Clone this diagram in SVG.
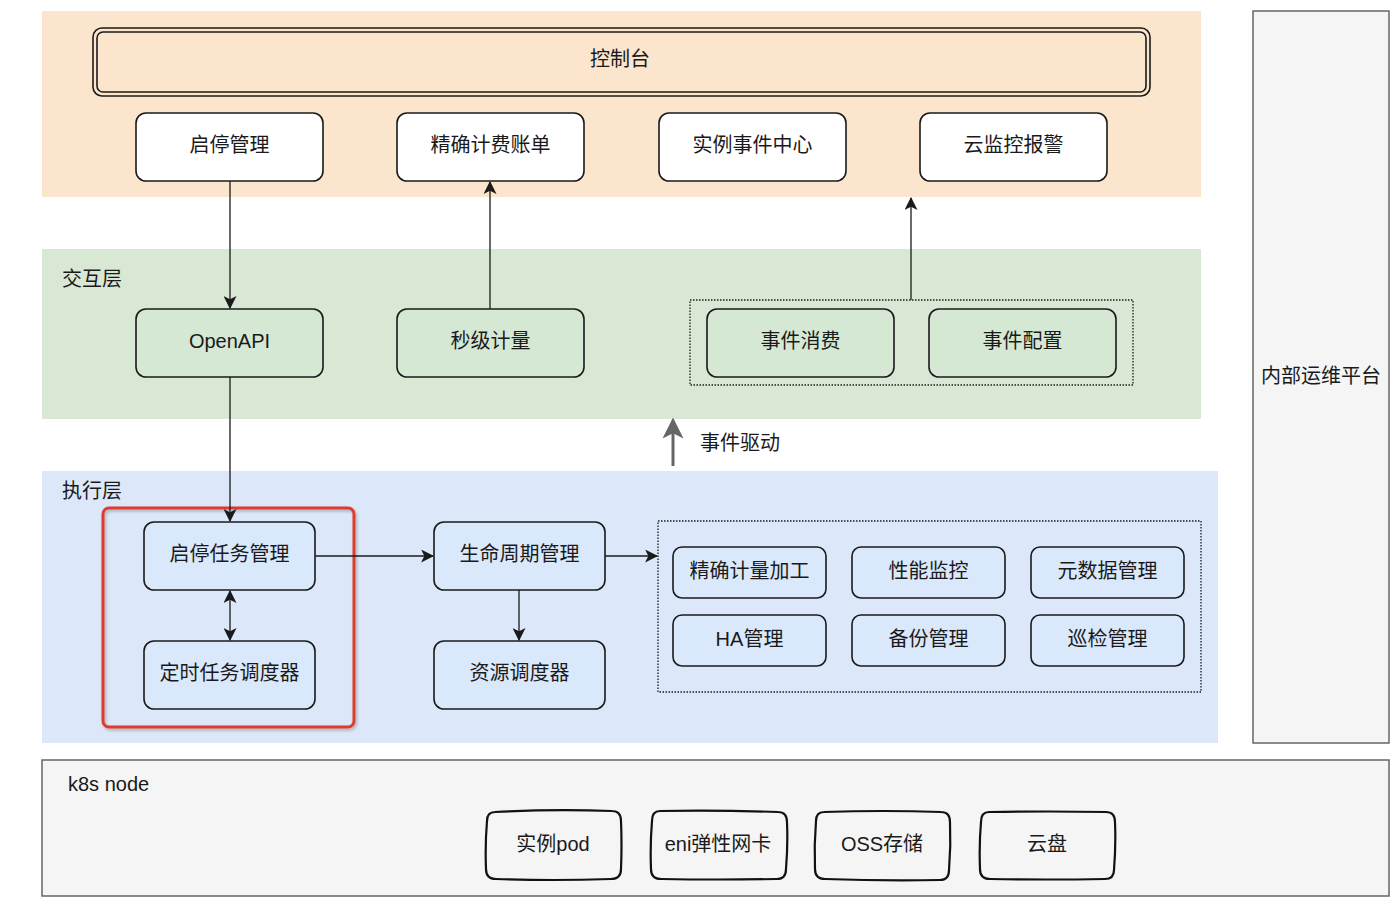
<svg xmlns="http://www.w3.org/2000/svg" width="1400" height="906" viewBox="0 0 1400 906">
<style>
text{font-family:"Liberation Sans","Noto Sans CJK SC",sans-serif;font-size:20px;fill:#1a1a1a;text-anchor:middle;dominant-baseline:central}
.lbl{text-anchor:start}
.box{stroke:#1a1a1a;stroke-width:1.6}
.w{fill:#ffffff}
.g{fill:#d5e8d4}
.b{fill:#dae8fc}
.dot{fill:none;stroke:#1a1a1a;stroke-width:1.3;stroke-dasharray:1.5 1.5}
.sk{fill:#f5f5f5;stroke:#111;stroke-width:2.2;stroke-linejoin:round}
.c{fill:none;stroke:#1a1a1a;stroke-width:1.3}
</style>
<defs>
<marker id="ah" viewBox="0 0 12 12" refX="11" refY="6" markerWidth="13" markerHeight="13" markerUnits="userSpaceOnUse" orient="auto-start-reverse">
<path d="M0,0 L12,6 L0,12 L3,6 Z" fill="#1a1a1a"/>
</marker>
<marker id="ahg" viewBox="0 0 12 12" refX="10" refY="6" markerWidth="7" markerHeight="7" orient="auto">
<path d="M0,0 L12,6 L0,12 L3,6 Z" fill="#666"/>
</marker>
<filter id="sh" x="-10%" y="-10%" width="120%" height="120%">
<feDropShadow dx="1.5" dy="2" stdDeviation="1.5" flood-color="#000" flood-opacity="0.25"/>
</filter>
</defs>

<g id="bands">
<rect x="42" y="11" width="1159" height="186" fill="#fbe5cd"/>
<rect x="42" y="249" width="1159" height="170" fill="#d9e8d5"/>
<rect x="42" y="471" width="1176" height="272" fill="#dce8f9"/>
<text class="lbl" x="62" y="279">交互层</text>
<text class="lbl" x="62" y="491">执行层</text>
</g>

<g id="console">
<rect x="93" y="28" width="1057" height="68" rx="9" fill="none" stroke="#1a1a1a" stroke-width="1.6"/>
<rect x="97" y="32" width="1049" height="60" rx="6" fill="none" stroke="#1a1a1a" stroke-width="1.6"/>
<text x="620" y="59">控制台</text>
</g>

<g id="n-qtgl"><rect class="box w" x="136" y="113" width="187" height="68" rx="10"/><text x="229.5" y="145">启停管理</text></g>
<g id="n-jqjf"><rect class="box w" x="397" y="113" width="187" height="68" rx="10"/><text x="490.5" y="145">精确计费账单</text></g>
<g id="n-slsj"><rect class="box w" x="659" y="113" width="187" height="68" rx="10"/><text x="752.5" y="145">实例事件中心</text></g>
<g id="n-yjk"><rect class="box w" x="920" y="113" width="187" height="68" rx="10"/><text x="1013.5" y="145">云监控报警</text></g>

<g id="n-openapi"><rect class="box g" x="136" y="309" width="187" height="68" rx="10"/><text x="229.5" y="341">OpenAPI</text></g>
<g id="n-mjjl"><rect class="box g" x="397" y="309" width="187" height="68" rx="10"/><text x="490.5" y="341">秒级计量</text></g>
<g id="grp-event">
<rect class="dot" x="690" y="300" width="443" height="85"/>
<g id="n-sjxf"><rect class="box g" x="707" y="309" width="187" height="68" rx="10"/><text x="800.5" y="341">事件消费</text></g>
<g id="n-sjpz"><rect class="box g" x="929" y="309" width="187" height="68" rx="10"/><text x="1022.5" y="341">事件配置</text></g>
</g>

<g id="event-drive">
<line x1="673" y1="466" x2="673" y2="421" stroke="#666" stroke-width="3" marker-end="url(#ahg)"/>
<text class="lbl" x="700" y="443">事件驱动</text>
</g>

<g id="highlight">
<rect x="103" y="508" width="251" height="219" rx="6" fill="none" stroke="#e03a2c" stroke-width="3" filter="url(#sh)"/>
</g>
<g id="n-qtrw"><rect class="box b" x="144" y="522" width="171" height="68" rx="10"/><text x="229.5" y="554">启停任务管理</text></g>
<g id="n-dsrw"><rect class="box b" x="144" y="641" width="171" height="68" rx="10"/><text x="229.5" y="673">定时任务调度器</text></g>
<g id="n-smzq"><rect class="box b" x="434" y="522" width="171" height="68" rx="10"/><text x="519.5" y="554">生命周期管理</text></g>
<g id="n-zyddq"><rect class="box b" x="434" y="641" width="171" height="68" rx="10"/><text x="519.5" y="673">资源调度器</text></g>

<g id="grp-services">
<rect class="dot" x="658" y="521" width="543" height="171"/>
<g id="n-jqjl"><rect class="box b" x="673" y="547" width="153" height="51" rx="9"/><text x="749.5" y="571">精确计量加工</text></g>
<g id="n-xnjk"><rect class="box b" x="852" y="547" width="153" height="51" rx="9"/><text x="928.5" y="571">性能监控</text></g>
<g id="n-ysj"><rect class="box b" x="1031" y="547" width="153" height="51" rx="9"/><text x="1107.5" y="571">元数据管理</text></g>
<g id="n-ha"><rect class="box b" x="673" y="615" width="153" height="51" rx="9"/><text x="749.5" y="639">HA管理</text></g>
<g id="n-bf"><rect class="box b" x="852" y="615" width="153" height="51" rx="9"/><text x="928.5" y="639">备份管理</text></g>
<g id="n-xj"><rect class="box b" x="1031" y="615" width="153" height="51" rx="9"/><text x="1107.5" y="639">巡检管理</text></g>
</g>

<g id="k8s">
<rect x="42" y="760" width="1347" height="136" fill="#f5f5f5" stroke="#666" stroke-width="1.5"/>
<text class="lbl" x="68" y="784">k8s node</text>
</g>
<g id="n-pod"><path class="sk" d="M495,812 Q553,809 612,811 Q621,811 621,821 Q622,845 621,869 Q621,879 611,879 Q553,881 496,879 Q486,879 486,869 Q485,845 487,821 Q487,812 495,812 Z"/><text x="553" y="844">实例pod</text></g>
<g id="n-eni"><path class="sk" d="M660,811 Q719,810 778,812 Q787,812 787,822 Q788,845 786,869 Q786,879 777,879 Q719,880 661,879 Q651,879 651,869 Q650,845 652,821 Q652,811 660,811 Z"/><text x="718" y="844">eni弹性网卡</text></g>
<g id="n-oss"><path class="sk" d="M824,812 Q883,810 941,812 Q950,812 950,822 Q951,846 949,870 Q949,880 940,880 Q883,881 825,879 Q815,879 815,869 Q814,845 816,821 Q816,812 824,812 Z"/><text x="882" y="844">OSS存储</text></g>
<g id="n-yp"><path class="sk" d="M989,812 Q1048,811 1106,812 Q1115,812 1115,822 Q1116,845 1114,870 Q1114,879 1105,879 Q1048,880 990,879 Q980,879 980,869 Q979,845 981,822 Q981,812 989,812 Z"/><text x="1047" y="844">云盘</text></g>

<g id="n-ops">
<rect x="1253" y="11" width="136" height="732" fill="#f5f5f5" stroke="#666" stroke-width="1.5"/>
<text x="1321" y="376">内部运维平台</text>
</g>

<g id="connectors">
<path class="c" d="M230,181 V308" marker-end="url(#ah)"/>
<path class="c" d="M490,309 V182" marker-end="url(#ah)"/>
<path class="c" d="M911,300 V198" marker-end="url(#ah)"/>
<path class="c" d="M230,377 V521" marker-end="url(#ah)"/>
<path class="c" d="M230,591 V640" marker-start="url(#ah)" marker-end="url(#ah)"/>
<path class="c" d="M315,556 H433" marker-end="url(#ah)"/>
<path class="c" d="M605,556 H657" marker-end="url(#ah)"/>
<path class="c" d="M519,590 V640" marker-end="url(#ah)"/>
</g>
</svg>
